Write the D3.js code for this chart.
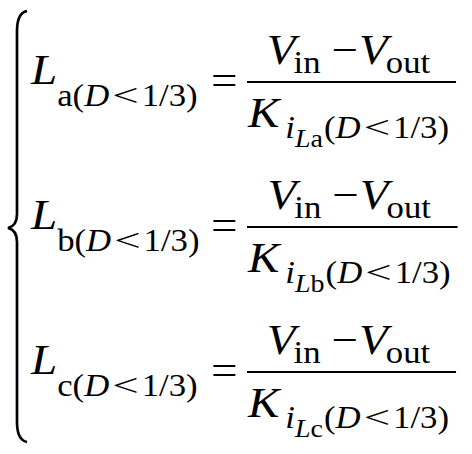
<!DOCTYPE html>
<html>
<head>
<meta charset="utf-8">
<script src="https://cdn.jsdelivr.net/npm/d3@7"></script>
<style>
  body { margin: 0; background: #fff; }
  text { font-family: "Liberation Serif", "Times New Roman", serif; fill: #000; }
</style>
</head>
<body>
<div id="chart"></div>
<script>
// formula content
const rowNames = ["a", "b", "c"];
const lhsSymbol = "L";
const conditionParts = ["(", "D", "<", "1/3)"];
const numeratorParts = [["V", "in"], ["V", "out"]];
const denomSymbol = "K";
const denomSub = "i";
const denomSubSub = "L";

const width = 472;
const height = 454;
const mainSize = 42;
const subSize = 31;
const subSubSize = 25;
const stretchX = 1.12;   // the source image is a bit wider than the font
const ltWiden = 1.35;    // "<" is drawn wider than the text font gives

// one fraction bar axis per row
const y = d3.scalePoint()
    .domain(rowNames)
    .range([82, 372]);

const svg = d3.create("svg")
    .attr("width", width)
    .attr("height", height);

// attach first so text can be measured
document.getElementById("chart").append(svg.node());

const g = svg.append("g")
    .attr("transform", `scale(${stretchX},1)`);

const px = v => v / stretchX;   // screen px -> group units

// put a piece of text at x and give back where the next one starts
function put(parent, x, yy, txt, size, italic) {
  const t = parent.append("text")
      .attr("x", x)
      .attr("y", yy)
      .attr("font-size", size)
      .attr("font-style", italic ? "italic" : "normal")
      .text(txt);
  return x + t.node().getComputedTextLength();
}

// a wide "<"
function putLess(parent, x, yy, size) {
  const t = parent.append("text")
      .attr("transform", `translate(${x},${yy}) scale(${ltWiden},1)`)
      .attr("font-size", size)
      .text(conditionParts[2]);
  return x + t.node().getComputedTextLength() * ltWiden;
}

// the "(D < 1/3)" bit, same in lhs and denominator
function condition(parent, x, yy) {
  x = put(parent, x, yy, conditionParts[0], subSize, false);
  x = put(parent, x, yy, conditionParts[1], subSize, true);
  x += px(3);
  x = putLess(parent, x, yy, subSize);
  x += px(3);
  x = put(parent, x, yy, conditionParts[3], subSize, false);
  return x;
}

rowNames.forEach(name => {
  const yc = y(name);
  const row = g.append("g");

  // left hand side L_x(D<1/3)
  let x = px(31);
  x = put(row, x, yc + 2, lhsSymbol, mainSize, true);
  x = put(row, x, yc + 24, name, subSize, false);
  x = condition(row, x, yc + 24);

  // equals
  put(row, px(211), yc + 12, "=", mainSize, false);

  // numerator
  const num = row.append("g");
  let nx = 0;
  nx = put(num, nx, yc - 18, numeratorParts[0][0], mainSize, true);
  nx = put(num, nx - px(2), yc - 9, numeratorParts[0][1], subSize, false);
  nx += px(11);
  nx = put(num, nx, yc - 18, "\u2212", mainSize, false);
  nx += px(1);
  nx = put(num, nx, yc - 18, numeratorParts[1][0], mainSize, true);
  nx = put(num, nx - px(2), yc - 9, numeratorParts[1][1], subSize, false);
  const numW = nx;

  // denominator
  const den = row.append("g");
  let dx = 0;
  dx = put(den, dx, yc + 45, denomSymbol, mainSize, true);
  dx = put(den, dx + px(6), yc + 56, denomSub, subSize, true);
  dx = put(den, dx, yc + 65, denomSubSub, subSubSize, true);
  dx = put(den, dx, yc + 65, name, subSubSize, false);
  dx += px(1);
  dx = condition(den, dx, yc + 56);
  const denW = dx;

  const barStart = px(247);
  const barW = Math.max(numW, denW) + px(8);
  const center = barStart + Math.max(numW, denW) / 2 + px(1);
  num.attr("transform", `translate(${center - numW / 2},0)`);
  den.attr("transform", `translate(${center - denW / 2},0)`);

  row.append("line")
      .attr("x1", barStart)
      .attr("x2", barStart + barW)
      .attr("y1", yc)
      .attr("y2", yc)
      .attr("stroke", "#000")
      .attr("stroke-width", 2);
});

// the big left brace
const braceTop = y(rowNames[0]) - 71;
const braceMid = y(rowNames[1]) + 1;
const braceBot = y(rowNames[2]) + 70;
const bx = px(17);
const brace = d3.path();
brace.moveTo(bx + px(10), braceTop);
brace.quadraticCurveTo(bx, braceTop + 2, bx, braceTop + 20);
brace.lineTo(bx, braceMid - 14);
brace.quadraticCurveTo(bx, braceMid - 2, bx - px(9), braceMid);
brace.quadraticCurveTo(bx, braceMid + 2, bx, braceMid + 14);
brace.lineTo(bx, braceBot - 20);
brace.quadraticCurveTo(bx, braceBot - 2, bx + px(10), braceBot);

g.append("path")
    .attr("d", brace.toString())
    .attr("fill", "none")
    .attr("stroke", "#000")
    .attr("stroke-width", 2.4);
</script>
</body>
</html>
